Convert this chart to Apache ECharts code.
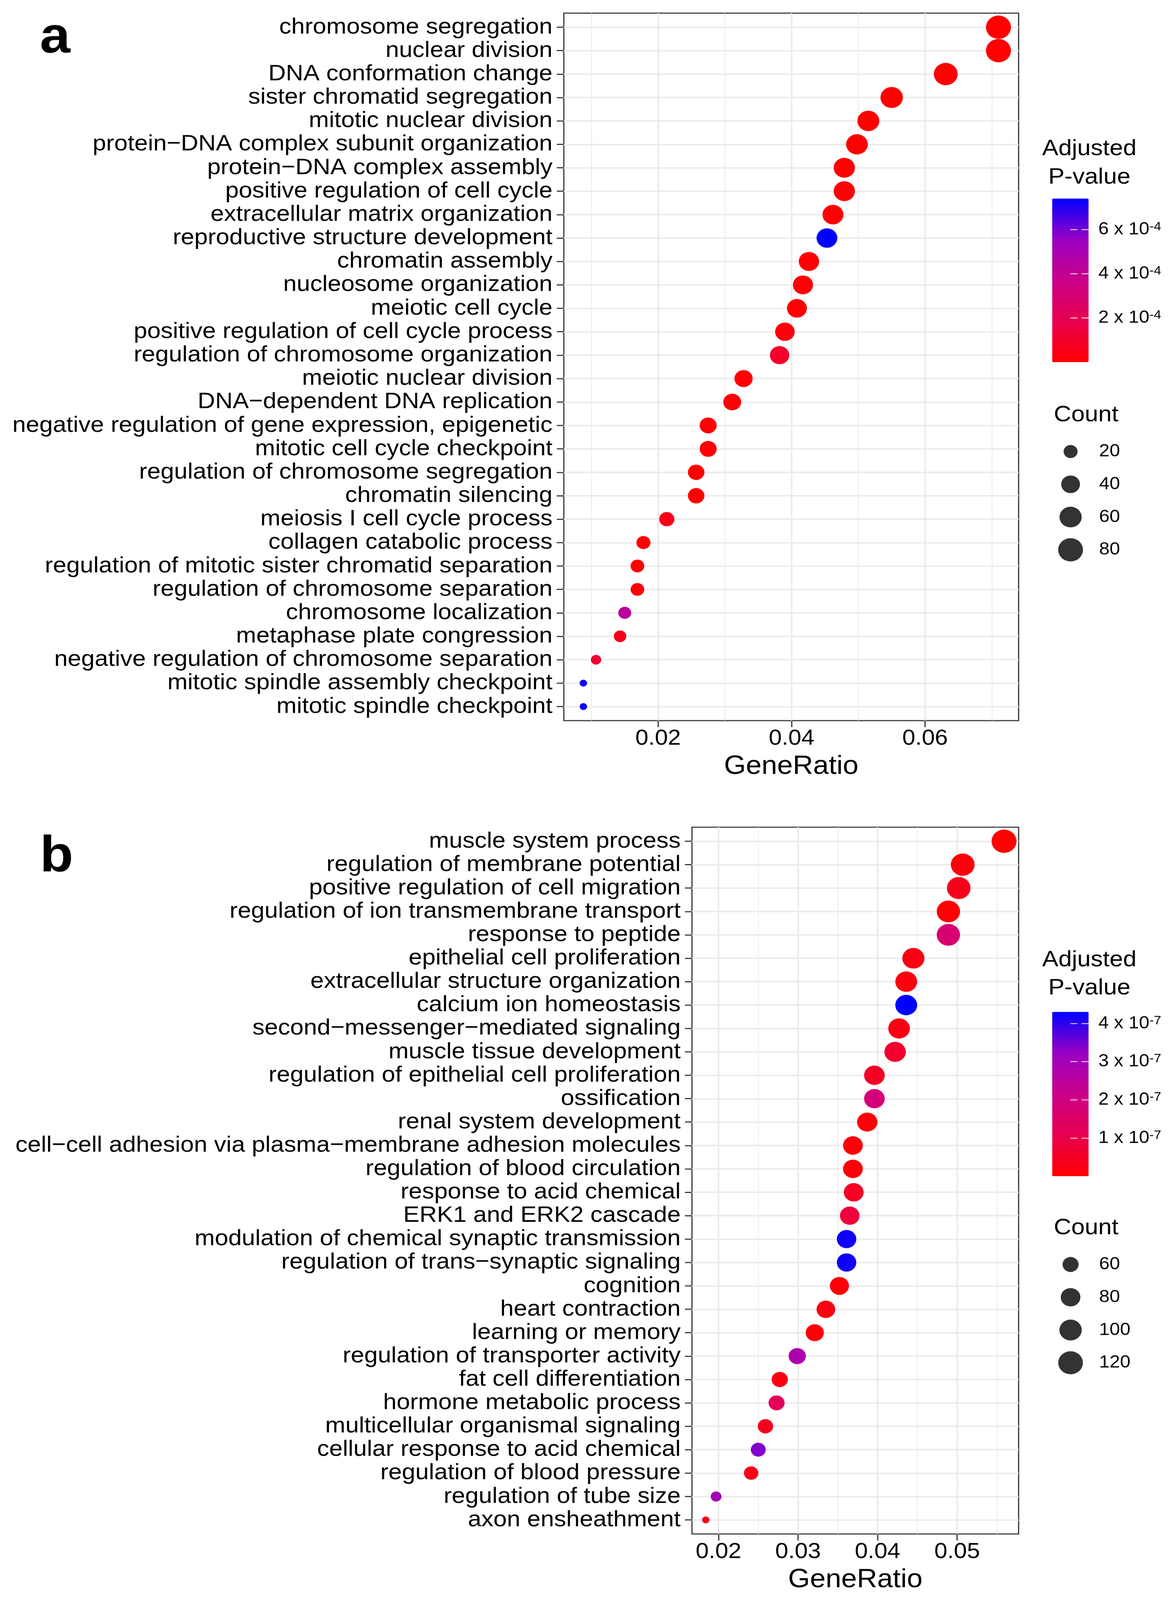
<!DOCTYPE html>
<html>
<head>
<meta charset="utf-8">
<script src="https://cdn.jsdelivr.net/npm/echarts@6.0.0/dist/echarts.min.js"></script>
<style>
html, body { margin: 0; padding: 0; background: #fff; overflow: hidden; }
#chart { width: 2997px; height: 4383px; transform-origin: 0 0; }
</style>
</head>
<body>
<div id="chart"></div>
<script>
// panel a: GO terms, top to bottom
const termsA = [
    'chromosome segregation', 'nuclear division', 'DNA conformation change',
    'sister chromatid segregation', 'mitotic nuclear division',
    'protein−DNA complex subunit organization', 'protein−DNA complex assembly',
    'positive regulation of cell cycle', 'extracellular matrix organization',
    'reproductive structure development', 'chromatin assembly', 'nucleosome organization',
    'meiotic cell cycle', 'positive regulation of cell cycle process',
    'regulation of chromosome organization', 'meiotic nuclear division',
    'DNA−dependent DNA replication', 'negative regulation of gene expression, epigenetic',
    'mitotic cell cycle checkpoint', 'regulation of chromosome segregation',
    'chromatin silencing', 'meiosis I cell cycle process', 'collagen catabolic process',
    'regulation of mitotic sister chromatid separation', 'regulation of chromosome separation',
    'chromosome localization', 'metaphase plate congression',
    'negative regulation of chromosome separation', 'mitotic spindle assembly checkpoint',
    'mitotic spindle checkpoint'
]
const ratioA = [0.0710, 0.0710, 0.0631, 0.0550, 0.0515, 0.0498, 0.0479, 0.0479, 0.0462, 0.0453,
    0.0426, 0.0417, 0.0408, 0.0390, 0.0382, 0.0328, 0.0311, 0.0275, 0.0275, 0.0257,
    0.0257, 0.0213, 0.0178, 0.0169, 0.0169, 0.0150, 0.0143, 0.0107, 0.0088, 0.0088]
const countA = [81, 81, 72, 62, 58, 57, 54, 54, 52, 51, 48, 47, 46, 44, 43, 37, 35, 31, 31, 29,
    29, 24, 20, 19, 19, 17, 16, 12, 10, 10]
const padjA = [1e-6, 1e-6, 1e-6, 2e-6, 3e-6, 2e-6, 3e-6, 1e-5, 1e-5, 7.4e-4,
    1e-5, 5e-6, 1e-5, 2e-5, 1.0e-4, 1e-5, 5e-6, 1e-5, 1e-5, 5e-6,
    5e-6, 5e-5, 1e-5, 1e-5, 1e-5, 4.3e-4, 6e-5, 1.2e-4, 7.2e-4, 7.3e-4]
const limA = [0.00587, 0.07402]
const ticksA = [0.02, 0.04, 0.06]
const minorA = [0.01, 0.03, 0.05, 0.07]
const padjLimA = [0, 7.4e-4]
const padjTicksA = [2e-4, 4e-4, 6e-4]
const countTicksA = [20, 40, 60, 80]

// panel b
const termsB = [
    'muscle system process', 'regulation of membrane potential',
    'positive regulation of cell migration', 'regulation of ion transmembrane transport',
    'response to peptide', 'epithelial cell proliferation', 'extracellular structure organization',
    'calcium ion homeostasis', 'second−messenger−mediated signaling', 'muscle tissue development',
    'regulation of epithelial cell proliferation', 'ossification', 'renal system development',
    'cell−cell adhesion via plasma−membrane adhesion molecules', 'regulation of blood circulation',
    'response to acid chemical', 'ERK1 and ERK2 cascade',
    'modulation of chemical synaptic transmission', 'regulation of trans−synaptic signaling',
    'cognition', 'heart contraction', 'learning or memory', 'regulation of transporter activity',
    'fat cell differentiation', 'hormone metabolic process', 'multicellular organismal signaling',
    'cellular response to acid chemical', 'regulation of blood pressure',
    'regulation of tube size', 'axon ensheathment'
]
const ratioB = [0.0559, 0.0507, 0.0502, 0.0489, 0.0489, 0.0445, 0.0436, 0.0436, 0.0427, 0.0422,
    0.0396, 0.0396, 0.0387, 0.0369, 0.0369, 0.0370, 0.0365, 0.0361, 0.0361, 0.0352,
    0.0335, 0.0321, 0.0299, 0.0277, 0.0273, 0.0259, 0.0250, 0.0241, 0.0197, 0.0184]
const countB = [123, 112, 110, 108, 108, 98, 96, 96, 94, 93, 87, 87, 85, 81, 81, 81, 80, 79, 79, 77,
    74, 71, 66, 61, 60, 57, 55, 53, 43, 40]
const padjB = [2e-9, 1.5e-8, 3.5e-8, 5e-9, 1.7e-7, 2.5e-8, 2e-8, 4.3e-7, 2.5e-8, 6e-8,
    5e-8, 1.8e-7, 1e-8, 1e-8, 1e-8, 5e-8, 8e-8, 4.2e-7, 4.2e-7, 1e-8,
    2e-8, 1e-8, 2.8e-7, 2e-8, 1.2e-7, 4e-8, 3.4e-7, 3e-8, 3e-7, 3e-8]
const limB = [0.016665, 0.05773]
const ticksB = [0.02, 0.03, 0.04, 0.05]
const minorB = [0.025, 0.035, 0.045, 0.055]
const padjLimB = [0, 4.3e-7]
const padjTicksB = [1e-7, 2e-7, 3e-7, 4e-7]
const countTicksB = [60, 80, 100, 120]

const FONT = 'Liberation Sans'
const dark = '#333333'
const gridLine = '#ebebeb'
// red -> blue, interpolated in Lab like ggplot
const pal = ['#ff0000', '#e80050', '#ca0089', '#9a00c3', '#0000ff']

// the window may be shorter than the figure: squeeze the page to fit it
const pageH = 4383
const fit = Math.min(1, window.innerHeight / pageH)
document.getElementById('chart').style.transform = `scale(1, ${fit})`

const sizeScale = function (counts) {
    const lo = Math.min(...counts)
    const hi = Math.max(...counts)
    return c => 19 + 45 * Math.sqrt(Math.max(0, c - lo) / (hi - lo))
}
const sizeA = sizeScale(countA)
const sizeB = sizeScale(countB)

const dataA = termsA.map((t, i) => [ratioA[i], i, countA[i], padjA[i]])
const dataB = termsB.map((t, i) => [ratioB[i], i, countB[i], padjB[i]])

const termAxis = function (gridIndex, terms) {
    const idx = terms.map((t, i) => i)
    return {
        type: 'value', gridIndex, inverse: true,
        min: -0.6, max: terms.length - 0.4,
        axisLine: { show: false, onZero: false },
        axisTick: { length: 18, lineStyle: { color: dark, width: 3 }, customValues: idx },
        axisLabel: {
            customValues: idx, formatter: v => terms[Math.round(v)],
            fontFamily: FONT, fontSize: 62, color: '#000', margin: 29
        },
        splitLine: { lineStyle: { color: gridLine, width: 4 } }
    }
}
const ratioAxis = function (gridIndex, lim, ticks) {
    return {
        type: 'value', gridIndex, min: lim[0], max: lim[1],
        name: 'GeneRatio', nameLocation: 'middle', nameGap: 90,
        nameTextStyle: { fontFamily: FONT, fontSize: 72, color: '#000' },
        axisLine: { show: false, onZero: false },
        axisTick: { length: 18, lineStyle: { color: dark, width: 3 }, customValues: ticks },
        axisLabel: {
            customValues: ticks, formatter: v => v.toFixed(2),
            fontFamily: FONT, fontSize: 60, color: '#000', margin: 19
        },
        splitLine: { lineStyle: { color: gridLine, width: 4 } }
    }
}
const minorAxis = function (gridIndex, lim, ticks) {
    return {
        type: 'value', gridIndex, min: lim[0], max: lim[1],
        axisLine: { show: false, onZero: false },
        axisTick: { show: false, customValues: ticks },
        axisLabel: { show: false, customValues: ticks },
        splitLine: { lineStyle: { color: gridLine, width: 2 } }
    }
}
const barAxis = function (gridIndex, lim, ticks, exp, side) {
    const axis = {
        type: 'value', gridIndex, position: side, min: lim[0], max: lim[1], z: 10,
        axisLine: { show: false },
        splitLine: { show: false },
        axisTick: { inside: true, length: 18, lineStyle: { color: '#fff', width: 2 }, customValues: ticks },
        axisLabel: { show: false }
    }
    if (side === 'right') {
        axis.axisLabel = {
            show: true, customValues: ticks, margin: 25,
            formatter: v => `{m|${Math.round(v / Math.pow(10, exp))} x 10}{s|${exp}}`,
            rich: {
                m: { fontFamily: FONT, fontSize: 48, color: '#000' },
                s: { fontFamily: FONT, fontSize: 34, color: '#000', verticalAlign: 'top' }
            }
        }
    }
    return axis
}
const hiddenX = gridIndex => ({ type: 'value', gridIndex, min: -1, max: 1, show: false })
const countAxis = (gridIndex, ticks) => ({
    type: 'category', gridIndex, position: 'right', inverse: true,
    data: ticks.map(String),
    axisLine: { show: false }, axisTick: { show: false }, splitLine: { show: false },
    axisLabel: { fontFamily: FONT, fontSize: 48, color: '#000', margin: 28 }
})
const legendText = (text, x, y, align) => ({
    type: 'text', x, y,
    style: { text, fill: '#000', font: `62px "${FONT}"`, align, verticalAlign: 'middle' }
})

const chart = echarts.init(document.getElementById('chart'), null, { renderer: 'canvas' })
chart.setOption({
    animation: false,
    backgroundColor: '#fff',
    grid: [
        { left: 1443, top: 36, width: 1164, height: 1938, show: true, borderColor: dark, borderWidth: 3, backgroundColor: 'transparent' },
        { left: 1771, top: 2266, width: 836, height: 1936, show: true, borderColor: dark, borderWidth: 3, backgroundColor: 'transparent' },
        { left: 2693, top: 544, width: 93, height: 448 },
        { left: 2693, top: 2772, width: 93, height: 450 },
        { left: 2695, top: 1192, width: 90, height: 359 },
        { left: 2695, top: 3419, width: 90, height: 359 }
    ],
    xAxis: [
        ratioAxis(0, limA, ticksA),
        minorAxis(0, limA, minorA),
        ratioAxis(1, limB, ticksB),
        minorAxis(1, limB, minorB),
        hiddenX(2), hiddenX(3), hiddenX(4), hiddenX(5)
    ],
    yAxis: [
        termAxis(0, termsA),
        termAxis(1, termsB),
        barAxis(2, padjLimA, padjTicksA, -4, 'left'),
        barAxis(2, padjLimA, padjTicksA, -4, 'right'),
        barAxis(3, padjLimB, padjTicksB, -7, 'left'),
        barAxis(3, padjLimB, padjTicksB, -7, 'right'),
        countAxis(4, countTicksA),
        countAxis(5, countTicksB)
    ],
    visualMap: [
        {
            type: 'continuous', seriesIndex: 0, dimension: 3, min: padjLimA[0], max: padjLimA[1],
            inRange: { color: pal }, calculable: false, hoverLink: false,
            left: 2693, top: 544, itemWidth: 93, itemHeight: 448, padding: 0, z: 1
        },
        {
            type: 'continuous', seriesIndex: 1, dimension: 3, min: padjLimB[0], max: padjLimB[1],
            inRange: { color: pal }, calculable: false, hoverLink: false,
            left: 2693, top: 2772, itemWidth: 93, itemHeight: 450, padding: 0, z: 1
        }
    ],
    series: [
        { type: 'scatter', xAxisIndex: 0, yAxisIndex: 0, data: dataA, symbolSize: d => sizeA(d[2]), itemStyle: { opacity: 1 } },
        { type: 'scatter', xAxisIndex: 2, yAxisIndex: 1, data: dataB, symbolSize: d => sizeB(d[2]), itemStyle: { opacity: 1 } },
        {
            type: 'scatter', xAxisIndex: 6, yAxisIndex: 6,
            data: countTicksA.map((c, i) => [0, i, c]),
            symbolSize: d => sizeA(d[2]), itemStyle: { color: '#000' }
        },
        {
            type: 'scatter', xAxisIndex: 7, yAxisIndex: 7,
            data: countTicksB.map((c, i) => [0, i, c]),
            symbolSize: d => sizeB(d[2]), itemStyle: { color: '#000' }
        }
    ],
    graphic: [
        { type: 'text', x: 102, y: 105, style: { text: 'a', fill: '#000', font: `bold 140px "${FONT}"`, verticalAlign: 'middle' } },
        { type: 'text', x: 102, y: 2348, style: { text: 'b', fill: '#000', font: `bold 140px "${FONT}"`, verticalAlign: 'middle' } },
        legendText('Adjusted', 2788, 408, 'center'),
        legendText('P-value', 2788, 486, 'center'),
        legendText('Count', 2697, 1137, 'left'),
        legendText('Adjusted', 2788, 2630, 'center'),
        legendText('P-value', 2788, 2707, 'center'),
        legendText('Count', 2697, 3364, 'left')
    ]
})
</script>
</body>
</html>
